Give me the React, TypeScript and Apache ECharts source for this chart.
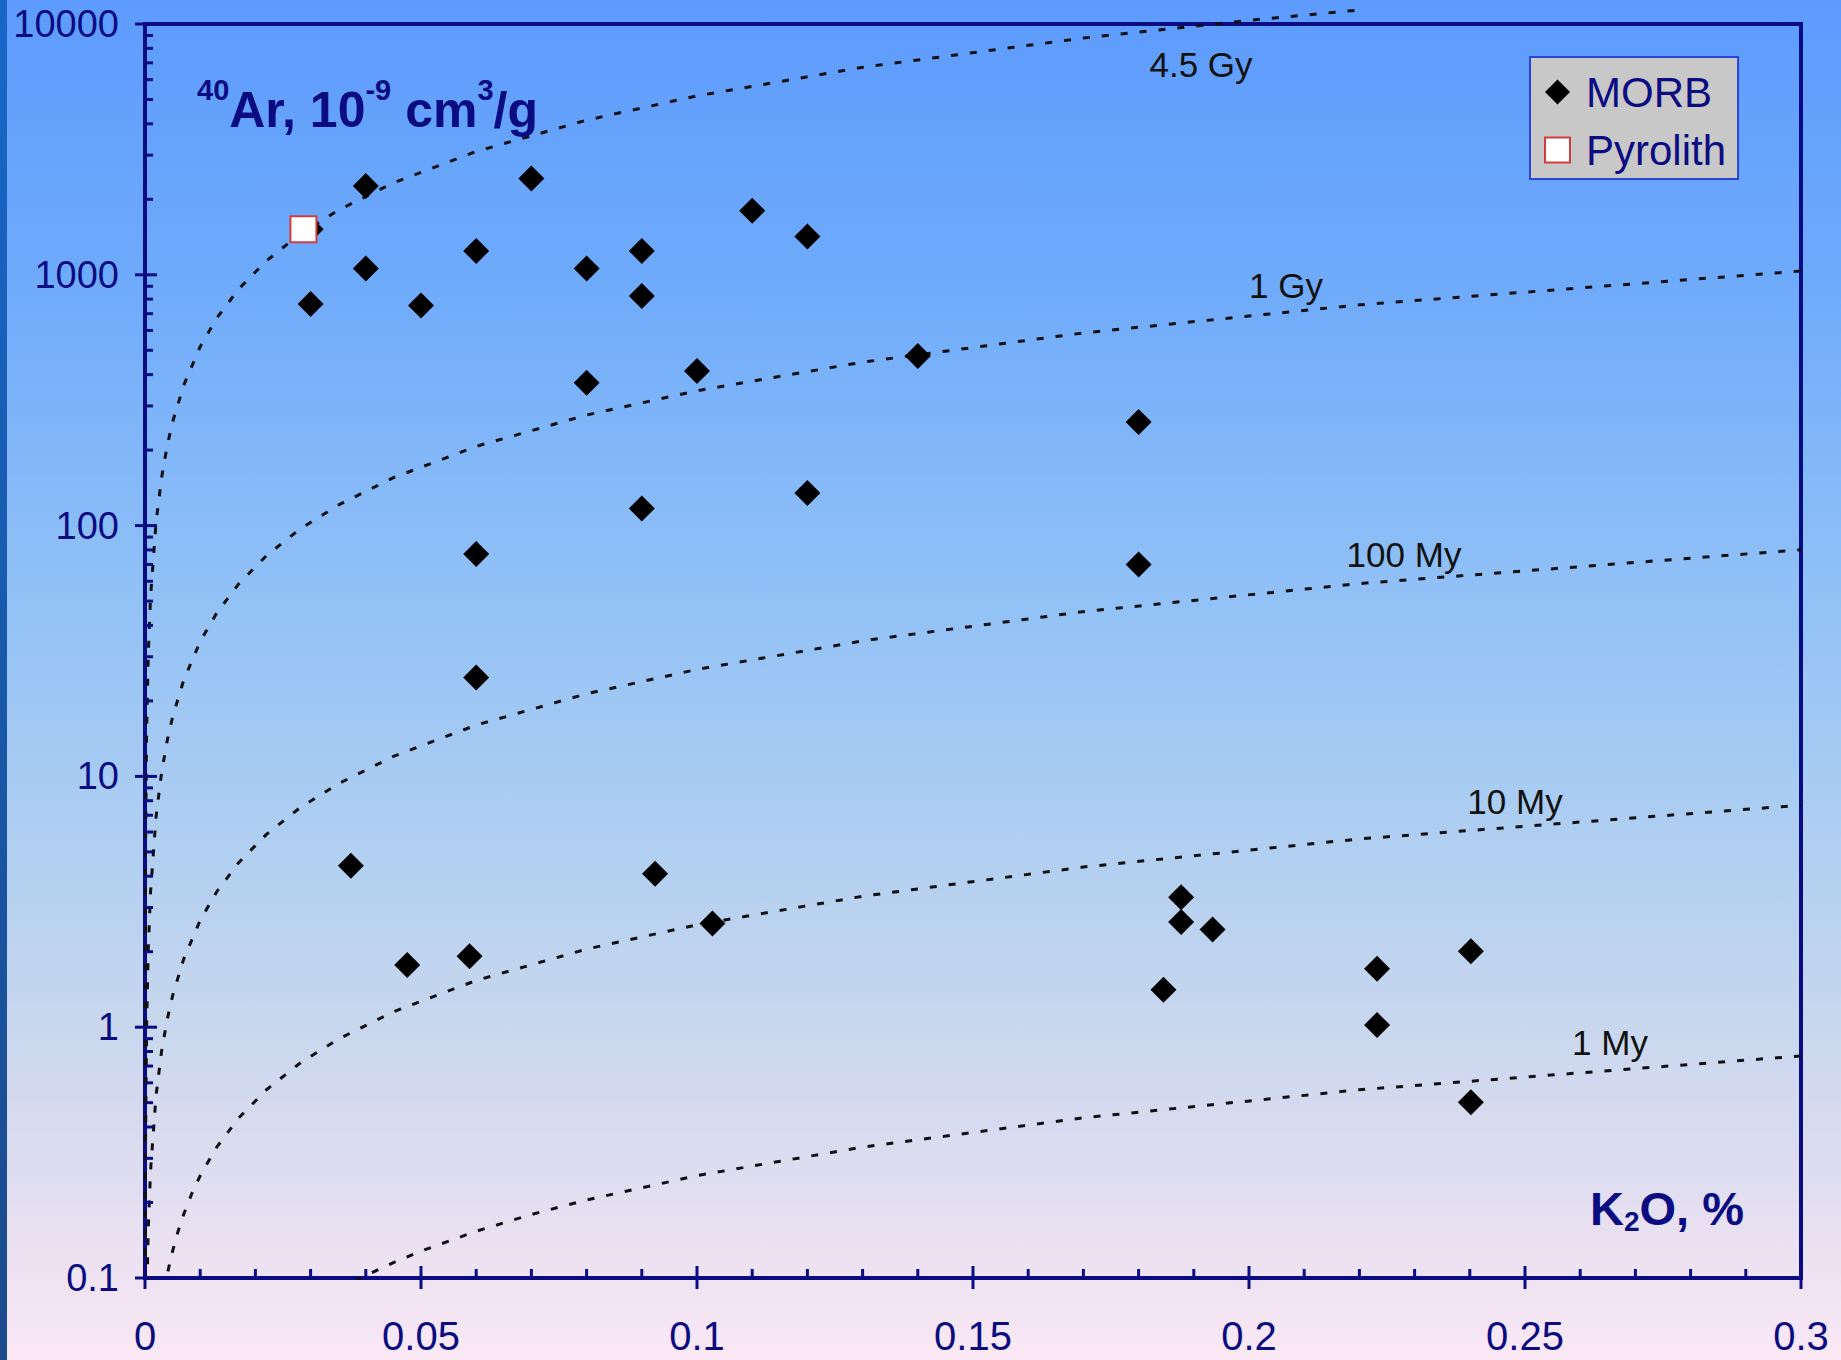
import React, { useEffect, useRef } from "react";
import * as echarts from "echarts";

const FONT = "'Liberation Sans', Arial, Helvetica, sans-serif";
const NAVY = "#0c0c82";
const CURVE_COLOR = "#101014";

// MORB samples: K2O (%) vs 40Ar (10^-9 cm3/g)
const MORB_K2O = [0.040, 0.070, 0.110, 0.120, 0.030, 0.040, 0.060, 0.030, 0.050, 0.080, 0.090, 0.090, 0.100, 0.080, 0.140, 0.180, 0.120, 0.090, 0.060, 0.180, 0.060, 0.0373, 0.0475, 0.0588, 0.0924, 0.1028, 0.1877, 0.1877, 0.1934, 0.1845, 0.2232, 0.2232, 0.2402, 0.2402];
const MORB_AR = [2260, 2420, 1800, 1420, 1520, 1060, 1245, 765, 755, 1060, 1245, 823, 413, 371, 474, 259, 135, 117, 77, 70, 24.8, 4.40, 1.77, 1.92, 4.09, 2.59, 3.30, 2.63, 2.45, 1.41, 1.71, 1.02, 2.01, 0.502];

const PYROLITH_K2O = [0.0287];
const PYROLITH_AR = [1518];

// Isochron curves (accumulation age lines)
const K2O_4_5GY = [0.000002, 0.00001, 0.00003, 0.0001, 0.0003, 0.0006, 0.001, 0.002, 0.003, 0.004, 0.005, 0.007, 0.01, 0.013, 0.017, 0.022, 0.028, 0.035, 0.045, 0.06, 0.08, 0.1, 0.13, 0.17, 0.2, 0.22];
const AR_4_5GY = [0.103, 0.517, 1.55, 5.17, 15.5, 31.0, 51.7, 103, 155, 207, 259, 362, 517, 672, 879, 1137, 1448, 1810, 2327, 3102, 4136, 5170, 6721, 8789, 10340, 11374];

const K2O_1GY = [0.00003, 0.0001, 0.0003, 0.0006, 0.001, 0.002, 0.003, 0.004, 0.005, 0.007, 0.01, 0.013, 0.017, 0.022, 0.028, 0.035, 0.045, 0.06, 0.08, 0.1, 0.13, 0.17, 0.22, 0.3];
const AR_1GY = [0.1035, 0.345, 1.035, 2.07, 3.45, 6.9, 10.35, 13.8, 17.25, 24.15, 34.5, 44.85, 58.65, 75.9, 96.6, 120.75, 155.25, 207, 276, 345, 448.5, 586.5, 759, 1035];

const K2O_100MY = [0.0003, 0.0006, 0.001, 0.002, 0.003, 0.004, 0.005, 0.007, 0.01, 0.013, 0.017, 0.022, 0.028, 0.035, 0.045, 0.06, 0.08, 0.1, 0.13, 0.17, 0.22, 0.3];
const AR_100MY = [0.080, 0.160, 0.267, 0.534, 0.801, 1.068, 1.335, 1.869, 2.67, 3.471, 4.539, 5.874, 7.476, 9.345, 12.015, 16.02, 21.36, 26.7, 34.71, 45.39, 58.74, 80.1];

const K2O_10MY = [0.0035, 0.004, 0.0045, 0.005, 0.006, 0.007, 0.0085, 0.01, 0.013, 0.017, 0.022, 0.028, 0.035, 0.045, 0.06, 0.08, 0.1, 0.13, 0.17, 0.22, 0.3];
const AR_10MY = [0.0896, 0.1024, 0.1152, 0.128, 0.1536, 0.1792, 0.2176, 0.256, 0.3328, 0.4352, 0.5632, 0.7168, 0.896, 1.152, 1.536, 2.048, 2.56, 3.328, 4.352, 5.632, 7.68];

const K2O_1MY = [0.035, 0.04, 0.045, 0.05, 0.06, 0.07, 0.08, 0.1, 0.13, 0.17, 0.22, 0.3];
const AR_1MY = [0.0896, 0.1024, 0.1152, 0.128, 0.1536, 0.1792, 0.2048, 0.256, 0.3328, 0.4352, 0.5632, 0.768];

const CURVE_LABELS = ["4.5 Gy", "1 Gy", "100 My", "10 My", "1 My"];

const X_MIN = 0;
const X_MAX = 0.3;
const Y_MIN = 0.1;
const Y_MAX = 10000;

export default function App() {
  const ref = useRef<HTMLDivElement>(null);

  useEffect(() => {
    if (!ref.current) return;
    const chart = echarts.init(ref.current, null, { renderer: "svg" });

    const pairs = (xs: number[], ys: number[]) => xs.map((x, i) => [x, ys[i]]);

    const curves = [
      { name: CURVE_LABELS[0], data: pairs(K2O_4_5GY, AR_4_5GY), clip: false },
      { name: CURVE_LABELS[1], data: pairs(K2O_1GY, AR_1GY), clip: true },
      { name: CURVE_LABELS[2], data: pairs(K2O_100MY, AR_100MY), clip: true },
      { name: CURVE_LABELS[3], data: pairs(K2O_10MY, AR_10MY), clip: true },
      { name: CURVE_LABELS[4], data: pairs(K2O_1MY, AR_1MY), clip: true },
    ];

    // axis tick positions (structural)
    const yTicks: number[][] = [];
    for (let e = -1; e <= 4; e++) {
      const base = Math.pow(10, e);
      yTicks.push([0, base, 1]);
      if (e < 4) for (let m = 2; m <= 9; m++) yTicks.push([0, m * base, 0]);
    }
    const xTicks: number[][] = [];
    for (let i = 0; i <= 30; i++) xTicks.push([i / 100, Y_MIN, i % 5 === 0 ? 1 : 0]);

    const curveSeries = curves.map((c) => ({
      type: "line",
      name: c.name,
      data: c.data,
      symbol: "none",
      showSymbol: false,
      clip: c.clip,
      silent: true,
      z: 2,
      lineStyle: { color: CURVE_COLOR, width: 3, type: [7, 12] },
    }));

    const option: any = {
      animation: false,
      backgroundColor: "transparent",
      grid: {
        left: 145,
        top: 24,
        right: 40,
        bottom: 82,
        show: true,
        borderColor: NAVY,
        borderWidth: 4,
        backgroundColor: "transparent",
      },
      legend: {
        data: ["MORB", "Pyrolith"],
        orient: "vertical",
        left: 1530,
        top: 57,
        backgroundColor: "#c8c8c8",
        borderColor: "#2a44d4",
        borderWidth: 2,
        padding: [14, 12, 8, 14],
        itemGap: 16,
        itemWidth: 25,
        itemHeight: 25,
        selectedMode: false,
        textStyle: { fontSize: 42, color: NAVY, fontFamily: FONT, padding: [0, 0, 0, 11] },
      },
      xAxis: {
        type: "value",
        min: X_MIN,
        max: X_MAX,
        interval: 0.05,
        axisLine: { show: false },
        axisTick: { show: false },
        splitLine: { show: false },
        axisLabel: {
          fontSize: 40,
          color: NAVY,
          fontFamily: FONT,
          margin: 38,
          formatter: (v: number) => String(Number(v.toFixed(2))),
        },
      },
      yAxis: {
        type: "log",
        logBase: 10,
        min: Y_MIN,
        max: Y_MAX,
        axisLine: { show: false },
        axisTick: { show: false },
        splitLine: { show: false },
        axisLabel: {
          fontSize: 38,
          color: NAVY,
          fontFamily: FONT,
          margin: 26,
          padding: [6, 0, 0, 0],
          formatter: (v: number) => String(Number(v.toPrecision(6))),
        },
      },
      graphic: [
        {
          type: "rect",
          shape: { x: 0, y: 0, width: 7, height: 1360 },
          style: {
            fill: new echarts.graphic.LinearGradient(0, 0, 0, 1, [
              { offset: 0, color: "#1767c8" },
              { offset: 1, color: "#1b4a8c" },
            ]),
          },
          z: -10,
          silent: true,
        },
        {
          type: "text",
          x: 197,
          y: 105,
          z: 10,
          style: {
            text: "{sup|40}{b|Ar, 10}{sup|-9}{b| cm}{sup|3}{b|/g}",
            align: "left",
            verticalAlign: "middle",
            rich: {
              b: { fontSize: 50, fontWeight: "bold", fontFamily: FONT, fill: NAVY, lineHeight: 60, verticalAlign: "bottom" },
              sup: { fontSize: 29, fontWeight: "bold", fontFamily: FONT, fill: NAVY, lineHeight: 14, verticalAlign: "top" },
            },
          },
        },
        {
          type: "text",
          x: 1590,
          y: 1210,
          z: 10,
          style: {
            text: "{b|K}{sub|2}{b|O, %}",
            align: "left",
            verticalAlign: "middle",
            rich: {
              b: { fontSize: 47, fontWeight: "bold", fontFamily: FONT, fill: NAVY, lineHeight: 50, verticalAlign: "top" },
              sub: { fontSize: 28, fontWeight: "bold", fontFamily: FONT, fill: NAVY, lineHeight: 22, verticalAlign: "bottom" },
            },
          },
        },
        { type: "text", x: 1201, y: 64, z: 10, style: { text: CURVE_LABELS[0], fontSize: 35, fontFamily: FONT, fill: "#111", align: "center", verticalAlign: "middle" } },
        { type: "text", x: 1286, y: 285, z: 10, style: { text: CURVE_LABELS[1], fontSize: 35, fontFamily: FONT, fill: "#111", align: "center", verticalAlign: "middle" } },
        { type: "text", x: 1404, y: 554, z: 10, style: { text: CURVE_LABELS[2], fontSize: 35, fontFamily: FONT, fill: "#111", align: "center", verticalAlign: "middle" } },
        { type: "text", x: 1515, y: 801, z: 10, style: { text: CURVE_LABELS[3], fontSize: 35, fontFamily: FONT, fill: "#111", align: "center", verticalAlign: "middle" } },
        { type: "text", x: 1610, y: 1042, z: 10, style: { text: CURVE_LABELS[4], fontSize: 35, fontFamily: FONT, fill: "#111", align: "center", verticalAlign: "middle" } },
      ],
      series: [
        ...curveSeries,
        {
          type: "scatter",
          name: "MORB",
          data: pairs(MORB_K2O, MORB_AR),
          symbol: "diamond",
          symbolSize: 26,
          itemStyle: { color: "#000000", opacity: 1 },
          z: 4,
        },
        {
          type: "scatter",
          name: "Pyrolith",
          data: pairs(PYROLITH_K2O, PYROLITH_AR),
          symbol: "rect",
          symbolSize: 26,
          itemStyle: { color: "#ffffff", borderColor: "#d23c3c", borderWidth: 2, opacity: 1 },
          z: 5,
        },
        {
          type: "custom",
          name: "yticks",
          data: yTicks,
          silent: true,
          clip: false,
          z: 6,
          renderItem: (_p: any, api: any) => {
            const pt = api.coord([api.value(0), api.value(1)]);
            const major = api.value(2) === 1;
            return {
              type: "line",
              shape: { x1: pt[0] - (major ? 10 : 0), y1: pt[1], x2: pt[0] + (major ? 12 : 8), y2: pt[1] },
              style: { stroke: NAVY, lineWidth: 3 },
            };
          },
        },
        {
          type: "custom",
          name: "xticks",
          data: xTicks,
          silent: true,
          clip: false,
          z: 6,
          renderItem: (_p: any, api: any) => {
            const pt = api.coord([api.value(0), api.value(1)]);
            const major = api.value(2) === 1;
            return {
              type: "line",
              shape: { x1: pt[0], y1: pt[1] - (major ? 12 : 9), x2: pt[0], y2: pt[1] + (major ? 11 : 0) },
              style: { stroke: NAVY, lineWidth: 3 },
            };
          },
        },
      ],
    };

    chart.setOption(option);
    return () => chart.dispose();
  }, []);

  return (
    <div
      ref={ref}
      style={{
        position: "fixed",
        left: 0,
        top: 0,
        width: "1841px",
        height: "1360px",
        background:
          "linear-gradient(180deg, #5d9bfd 0%, #6eaafb 20%, #93c2f6 45%, #b0cff1 62%, #c7d7ee 75%, #dcdcf0 85%, #fbe8f4 100%)",
      }}
    />
  );
}
